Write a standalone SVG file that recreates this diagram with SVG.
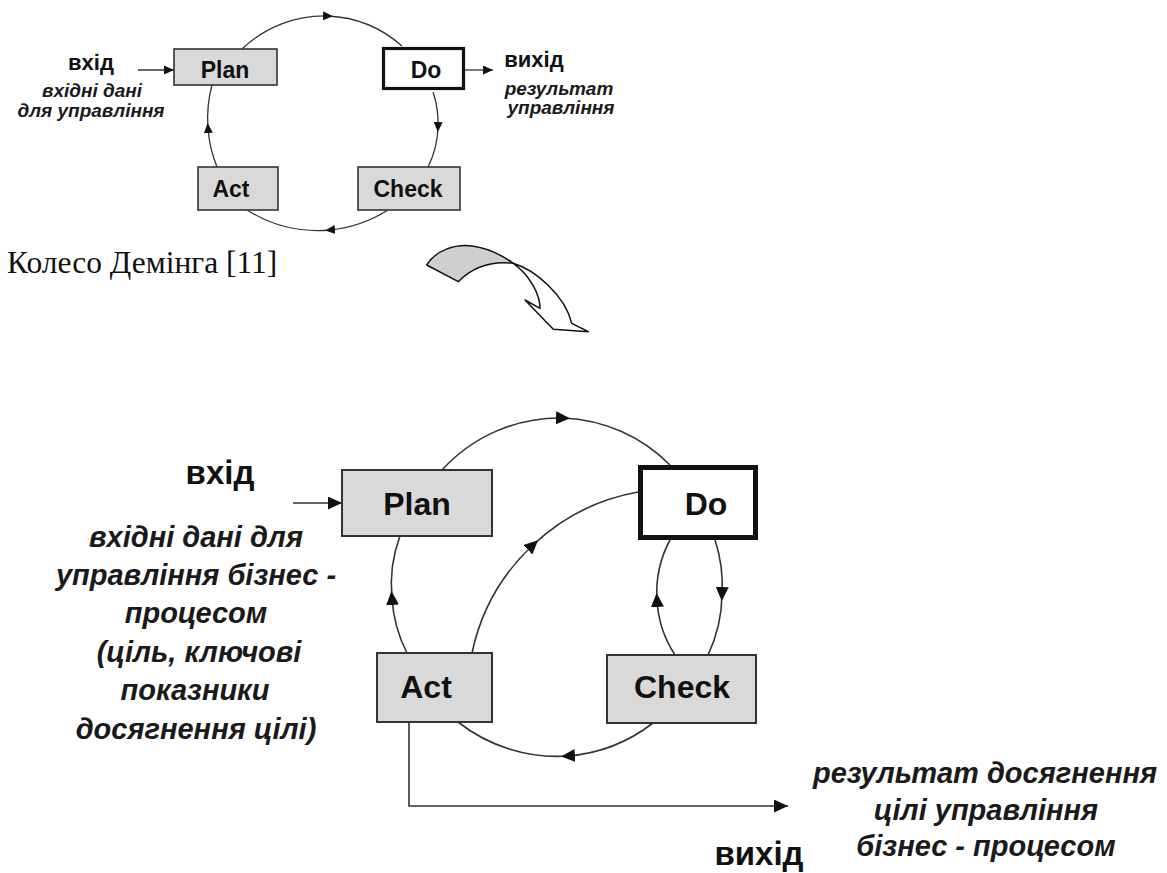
<svg xmlns="http://www.w3.org/2000/svg" width="1167" height="873" viewBox="0 0 1167 873">
  <defs>
    <style>
      .box { fill: #d9d9d9; stroke: #333; stroke-width: 2; }
      .box.thin { stroke-width: 1.6; }
      .boxDo { fill: #fff; stroke: #111; }
      .boxDo.s { stroke-width: 3.2; }
      .boxDo.l { stroke-width: 5; }
      .lbl { font-family: "Liberation Sans", Arial, sans-serif; font-weight: bold; fill: #111; text-anchor: middle; }
      .note { font-family: "Liberation Sans", Arial, sans-serif; font-weight: bold; font-style: italic; fill: #1a1a1a; text-anchor: middle; }
      .cap { font-family: "Liberation Serif", "Times New Roman", serif; fill: #111; }
      .arc { fill: none; stroke: #333; }
      .sm { stroke-width: 1.3; }
      .lg { stroke-width: 1.6; }
    </style>
    <!-- arrowheads placed at the middle of each arc -->
    <marker id="midS" markerUnits="userSpaceOnUse" markerWidth="10" markerHeight="9" refX="5" refY="4.5" orient="auto">
      <path d="M0,0 L10,4.5 L0,9 z" fill="#111"/>
    </marker>
    <marker id="midL" markerUnits="userSpaceOnUse" markerWidth="14" markerHeight="13" refX="7" refY="6.5" orient="auto">
      <path d="M0,0 L14,6.5 L0,13 z" fill="#111"/>
    </marker>
    <!-- arrowheads at line ends -->
    <marker id="endS" markerUnits="userSpaceOnUse" markerWidth="10" markerHeight="9" refX="10" refY="4.5" orient="auto">
      <path d="M0,0 L10,4.5 L0,9 z" fill="#111"/>
    </marker>
    <marker id="endL" markerUnits="userSpaceOnUse" markerWidth="14" markerHeight="13" refX="14" refY="6.5" orient="auto">
      <path d="M0,0 L14,6.5 L0,13 z" fill="#111"/>
    </marker>
  </defs>

  <rect width="1167" height="873" fill="#fff"/>

  <!-- ===== small PDCA wheel ===== -->
  <g id="connectors-small">
    <path class="arc sm" marker-mid="url(#midS)" d="M242,49 A120,120 0 0 1 328,16 A120,120 0 0 1 402,46"/>
    <path class="arc sm" marker-mid="url(#midS)" d="M433,92 A95,95 0 0 1 438,127 A95,95 0 0 1 428,167"/>
    <path class="arc sm" marker-mid="url(#midS)" d="M388,210 A134,134 0 0 1 330,230 A134,134 0 0 1 247,210"/>
    <path class="arc sm" marker-mid="url(#midS)" d="M217,167 A126,126 0 0 1 208,128 A126,126 0 0 1 212,85"/>
    <path class="arc sm" marker-end="url(#endS)" d="M138,70 H174"/>
    <path class="arc sm" marker-end="url(#endS)" d="M461,70 H493"/>
  </g>

  <g id="s-plan">
    <rect class="box thin" x="174" y="49" width="103" height="36"/>
    <text class="lbl" x="225" y="78" font-size="23">Plan</text>
  </g>
  <g id="s-do">
    <rect class="boxDo s" x="383.5" y="48.5" width="80" height="40"/>
    <text class="lbl" x="426" y="78" font-size="23">Do</text>
  </g>
  <g id="s-act">
    <rect class="box thin" x="198" y="167" width="80" height="43"/>
    <text class="lbl" x="231" y="197" font-size="23">Act</text>
  </g>
  <g id="s-check">
    <rect class="box thin" x="358" y="167" width="102" height="43"/>
    <text class="lbl" x="408" y="197" font-size="23">Check</text>
  </g>

  <g id="s-input">
    <text class="lbl" x="91" y="70" font-size="22">вхід</text>
    <text class="note" x="92" y="97" font-size="19">вхідні дані</text>
    <text class="note" x="91" y="117" font-size="19">для управління</text>
  </g>
  <g id="s-output">
    <text class="lbl" x="534" y="67" font-size="22">вихід</text>
    <text class="note" x="559" y="95" font-size="19">результат</text>
    <text class="note" x="561" y="114" font-size="19">управління</text>
  </g>

  <g id="caption">
    <text class="cap" x="7" y="273" font-size="31.5">Колесо Демінга [11]</text>
  </g>

  <!-- curved block arrow pointing down to the extended wheel -->
  <g id="transition-arrow" stroke="#111" stroke-width="1.5" stroke-linejoin="round">
    <path fill="#cfcfcf" d="M426.7,265 C436,250 455,244 472,246 C488,248 503,256 513.3,263.3 Q480,259.5 458.3,281.7 Z"/>
    <path fill="#fff" d="M513.3,263.3 C535,270 565,295 571.7,323.3 L588.3,331.7 L553.3,329.3 L525,300 L540,308.3 C540,295 530,275 513.3,263.3 Z"/>
  </g>

  <!-- ===== extended wheel ===== -->
  <g id="connectors">
    <path class="arc lg" marker-mid="url(#midL)" d="M442,470 A159,159 0 0 1 563,418 A159,159 0 0 1 670,465"/>
    <path class="arc lg" marker-mid="url(#midL)" d="M472,653 A206,206 0 0 1 533,545 A206,206 0 0 1 638,492"/>
    <path class="arc lg" marker-mid="url(#midL)" d="M715,540 A144,144 0 0 1 722,594 A144,144 0 0 1 708,655"/>
    <path class="arc lg" marker-mid="url(#midL)" d="M675,655 A111,111 0 0 1 657,600 A111,111 0 0 1 670,540"/>
    <path class="arc lg" marker-mid="url(#midL)" d="M653,723 A160,160 0 0 1 568,756 A160,160 0 0 1 458,722"/>
    <path class="arc lg" marker-mid="url(#midL)" d="M407,653 A138,138 0 0 1 392,598 A138,138 0 0 1 400,536"/>
    <path class="arc lg" marker-end="url(#endL)" d="M293,503 H342"/>
    <path class="arc lg" marker-end="url(#endL)" d="M409,722 V806 H788"/>
  </g>

  <g id="plan">
    <rect class="box" x="342" y="470" width="150" height="66"/>
    <text class="lbl" x="417" y="515" font-size="32">Plan</text>
  </g>
  <g id="do">
    <rect class="boxDo l" x="640.5" y="467.5" width="115" height="70"/>
    <text class="lbl" x="706" y="515" font-size="32">Do</text>
  </g>
  <g id="act">
    <rect class="box" x="377" y="653" width="115" height="69"/>
    <text class="lbl" x="426" y="698" font-size="32">Act</text>
  </g>
  <g id="check">
    <rect class="box" x="607" y="655" width="149" height="68"/>
    <text class="lbl" x="682" y="698" font-size="32">Check</text>
  </g>

  <g id="input">
    <text class="lbl" x="220" y="484" font-size="33">вхід</text>
    <text class="note" x="196" y="547" font-size="29">вхідні дані для</text>
    <text class="note" x="196" y="585" font-size="29">управління бізнес -</text>
    <text class="note" x="196" y="623" font-size="29">процесом</text>
    <text class="note" x="199" y="662" font-size="29">(ціль, ключові</text>
    <text class="note" x="195" y="700" font-size="29">показники</text>
    <text class="note" x="196" y="739" font-size="29">досягнення цілі)</text>
  </g>
  <g id="output">
    <text class="lbl" x="759" y="865" font-size="33">вихід</text>
    <text class="note" x="985" y="783" font-size="29">результат досягнення</text>
    <text class="note" x="986" y="820" font-size="29">цілі управління</text>
    <text class="note" x="986" y="856" font-size="29">бізнес - процесом</text>
  </g>
</svg>
